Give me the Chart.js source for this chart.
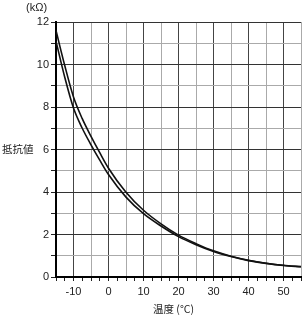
<!DOCTYPE html>
<html>
<head>
<meta charset="utf-8">
<script src="https://cdn.jsdelivr.net/npm/chart.js@4"></script>
<style>
  html, body { margin: 0; padding: 0; background: #fff; }
  #wrap { width: 305px; height: 315px; position: relative; }
</style>
</head>
<body>
<div id="wrap"><canvas id="rtChart" width="305" height="315"></canvas></div>
<script>
// temperature (°C) and resistance (kΩ)
const temps = [-15, -12.5, -10, -7.5, -5, -2.5, 0, 5, 10, 15, 20, 25, 30, 35, 40, 45, 50, 55];
const highR = [11.6, 9.95, 8.47, 7.45, 6.62, 5.85, 5.12, 3.99, 3.14, 2.5, 1.97, 1.57, 1.23, 0.98, 0.79, 0.65, 0.55, 0.49];
const lowR = [11.1, 9.4, 7.95, 7.0, 6.22, 5.5, 4.82, 3.76, 2.98, 2.4, 1.9, 1.52, 1.2, 0.96, 0.77, 0.64, 0.54, 0.48];

const yTitle = '抵抗値';
const yUnit = '(kΩ)';
const xTitle = '温度 (°C)';

const labelFont = { family: '"Liberation Sans", Arial, sans-serif', size: 11 };
const cjkFont = '10.5px "Noto Sans CJK JP", sans-serif';

function toPoints(xs, ys) {
    return xs.map((x, i) => ({ x: x, y: ys[i] }));
}

// axis titles drawn on the canvas
const titlesPlugin = {
    id: 'titles',
    afterDraw(chart) {
        const ctx = chart.ctx;
        ctx.save();
        ctx.fillStyle = '#222';
        ctx.textBaseline = 'middle';
        ctx.font = '11px "Liberation Sans", "Noto Sans CJK JP", sans-serif';
        ctx.textAlign = 'left';
        ctx.fillText(yUnit, 26, 8);
        ctx.font = cjkFont;
        ctx.fillText(yTitle, 2, 149);
        ctx.fillText(xTitle, 153, 309);
        ctx.restore();
    }
};

const ctx = document.getElementById('rtChart').getContext('2d');
const rtChart = new Chart(ctx, {
    type: 'line',
    data: {
        datasets: [
            {
                data: toPoints(temps, highR),
                borderColor: '#111',
                borderWidth: 1.6,
                pointRadius: 0,
                cubicInterpolationMode: 'monotone'
            },
            {
                data: toPoints(temps, lowR),
                borderColor: '#111',
                borderWidth: 1.6,
                pointRadius: 0,
                cubicInterpolationMode: 'monotone'
            }
        ]
    },
    options: {
        responsive: false,
        animation: false,
        events: [],
        layout: { padding: { top: 22, right: 0, left: 0, bottom: 0 } },
        plugins: {
            legend: { display: false },
            tooltip: { enabled: false }
        },
        scales: {
            x: {
                type: 'linear',
                min: -15,
                max: 55,
                afterFit: function(scale) { scale.height = 38; },
                ticks: {
                    stepSize: 2.5,
                    autoSkip: false,
                    maxRotation: 0,
                    padding: 4,
                    color: '#222',
                    font: labelFont,
                    callback: function(value) {
                        return value % 10 === 0 ? String(value) : '';
                    }
                },
                grid: {
                    tickLength: 4,
                    tickColor: '#222',
                    color: function(c) {
                        const v = c.tick.value;
                        if (v % 10 === 0) return '#444';
                        if (v % 5 === 0) return '#aaa';
                        return 'rgba(0,0,0,0)';
                    }
                },
                border: { color: '#000', width: 2 }
            },
            y: {
                min: 0,
                max: 12,
                afterFit: function(scale) { scale.width = 56; },
                ticks: {
                    stepSize: 1,
                    autoSkip: false,
                    padding: 2,
                    color: '#222',
                    font: labelFont,
                    callback: function(value) {
                        return value % 2 === 0 ? String(value) : '';
                    }
                },
                grid: {
                    tickLength: 5,
                    tickColor: '#222',
                    color: function(c) {
                        return c.tick.value % 2 === 0 ? '#333' : '#aaa';
                    }
                },
                border: { color: '#000', width: 2 }
            }
        }
    },
    plugins: [titlesPlugin]
});
</script>
</body>
</html>
